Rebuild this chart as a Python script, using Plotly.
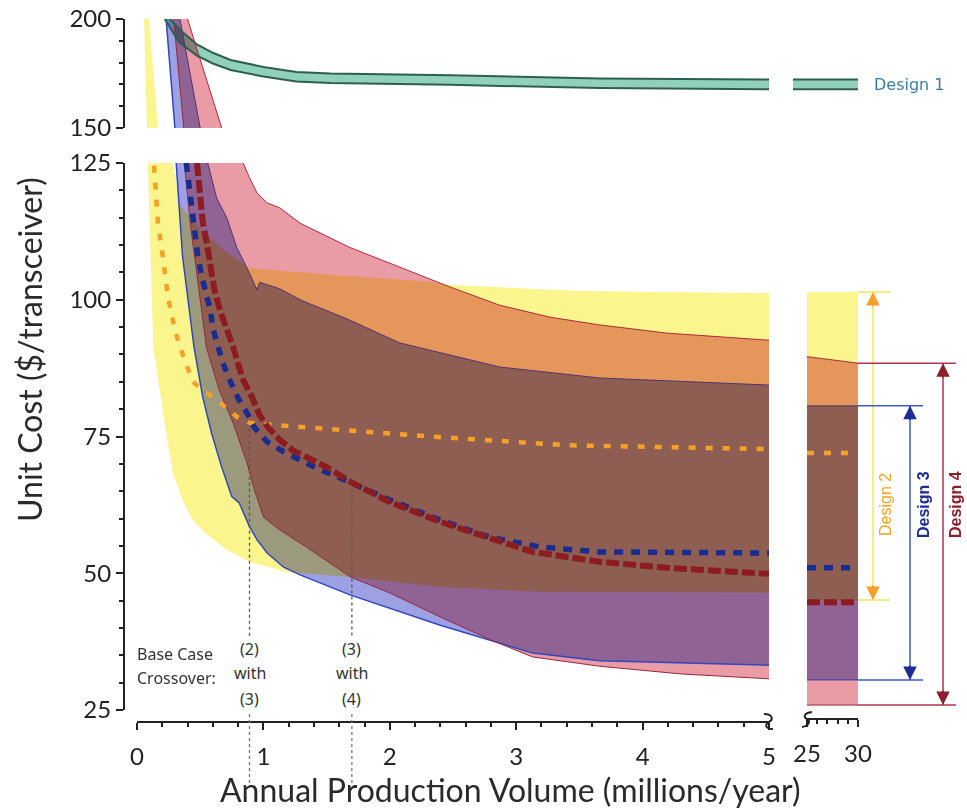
import plotly.graph_objects as go

W, H = 967, 809

# ---------------- data ----------------
# Design 1 (top panel band)
d1_upper_x = [0.26, 0.36, 0.47, 0.60, 0.74, 1.00, 1.26, 1.53, 2.48, 3.66, 5.00]
d1_upper_y = [200, 194.0, 188.5, 184.5, 181.2, 178.0, 175.7, 175.0, 174.2, 172.7, 172.2]
d1_lower_x = [0.22, 0.33, 0.47, 0.60, 0.74, 1.00, 1.26, 1.53, 2.48, 3.66, 5.00]
d1_lower_y = [200, 189.5, 183.3, 179.6, 176.6, 173.6, 171.3, 170.6, 169.8, 168.3, 167.8]

# Design 2 (yellow band + base case)
d2_upper_x = [0.095, 0.166, 0.285, 0.34, 0.52, 0.71, 0.89, 1.50, 2.32, 2.48, 3.50, 5.00]
d2_upper_y = [200, 150, 125, 117.3, 112.4, 108.7, 105.8, 104.6, 103.3, 102.7, 101.6, 101.2]
d2_lower_x = [0.056, 0.079, 0.085, 0.13, 0.18, 0.24, 0.285, 0.36, 0.44, 0.54, 0.71, 0.89,
              1.19, 1.69, 2.40, 3.19, 5.00]
d2_lower_y = [200, 150, 125, 91.0, 83.5, 74.4, 68.3, 63.4, 59.7, 57.4, 54.3, 52.1,
              50.2, 49.3, 47.5, 46.6, 46.5]
d2_base_x = [0.135, 0.166, 0.206, 0.245, 0.30, 0.34, 0.44, 0.56, 0.66, 0.79, 0.89, 1.08,
             1.50, 2.08, 2.32, 3.40, 5.00]
d2_base_y = [124.5, 114.0, 107.6, 100.5, 94.5, 91.4, 85.0, 83.0, 81.1, 78.6, 77.5, 77.1,
             76.4, 75.3, 75.0, 73.4, 72.7]

# Design 3 (blue band + base case)
d3_upper_x = [0.34, 0.50, 0.56, 0.63, 0.71, 0.79, 0.87, 0.95, 0.97, 1.13, 1.29, 1.68,
              2.08, 2.32, 2.87, 3.66, 5.00]
d3_upper_y = [200, 150, 125, 118.6, 115.0, 109.5, 105.8, 101.8, 103.2, 102.0, 100.0, 96.3,
              92.1, 90.8, 87.7, 85.7, 84.4]
d3_lower_x = [0.23, 0.30, 0.31, 0.36, 0.45, 0.52, 0.59, 0.67, 0.75, 0.81, 0.89, 0.95,
              1.03, 1.16, 1.29, 1.69, 2.40, 3.13, 3.66, 5.00]
d3_lower_y = [200, 150, 125, 108.0, 91.5, 82.2, 75.6, 69.4, 64.0, 62.8, 58.5, 56.1,
              53.7, 51.1, 49.7, 46.0, 40.5, 35.4, 34.0, 33.2]
d3_base_x = [0.39, 0.41, 0.435, 0.46, 0.48, 0.51, 0.54, 0.58, 0.60, 0.64, 0.68, 0.74,
             0.80, 0.87, 0.93, 1.03, 1.16, 1.29, 1.42, 1.55, 1.69, 2.00, 2.40, 2.79,
             3.19, 3.66, 5.00]
d3_base_y = [125.0, 121.0, 117.3, 111.3, 108.2, 104.5, 101.4, 98.1, 94.8, 91.4, 88.4, 85.0,
             82.0, 79.3, 76.6, 74.0, 72.2, 70.7, 69.2, 68.0, 66.5, 63.4, 59.7, 56.6,
             54.8, 53.9, 53.7]

# Design 4 (red band + base case)
d4_upper_x = [0.40, 0.67, 0.84, 0.89, 0.95, 1.03, 1.13, 1.29, 1.68, 2.08, 2.48, 2.87,
              3.27, 3.66, 4.19, 5.00]
d4_upper_y = [200, 150, 125, 122.3, 119.5, 117.7, 116.8, 114.0, 109.6, 106.0, 102.3, 99.0,
              96.8, 95.4, 93.9, 92.6]
d4_lower_x = [0.29, 0.37, 0.375, 0.42, 0.55, 0.65, 0.76, 0.87, 0.93, 1.00, 1.13, 1.34,
              1.69, 2.00, 2.40, 2.80, 3.13, 3.66, 4.30, 5.00]
d4_lower_y = [200, 150, 125, 114.2, 91.2, 83.5, 77.5, 70.2, 65.2, 60.3, 57.9, 54.8,
              49.3, 46.4, 42.0, 37.8, 34.7, 33.0, 31.6, 30.7]
d4_base_x = [0.475, 0.49, 0.52, 0.55, 0.58, 0.61, 0.66, 0.71, 0.76, 0.79, 0.84, 0.91,
             0.97, 1.04, 1.13, 1.23, 1.37, 1.50, 1.69, 2.00, 2.40, 2.79, 3.13, 3.66,
             4.19, 5.00]
d4_base_y = [125.0, 120.4, 114.2, 110.6, 106.4, 102.1, 97.8, 94.8, 91.4, 89.0, 85.3, 82.2,
             78.9, 76.6, 74.4, 72.5, 71.0, 69.4, 66.7, 63.0, 59.4, 56.4, 53.9, 52.1,
             51.0, 49.9]

# Right panel (25-30 million/year)
r_x = [25, 30]
d1_r_upper = [172.2, 172.2]
d1_r_lower = [167.8, 167.8]
d2_r_upper = [101.4, 101.4]
d2_r_lower = [45.1, 45.1]
d2_r_base = [72.0, 72.0]
d3_r_upper = [80.6, 80.6]
d3_r_lower = [30.5, 30.5]
d3_r_base = [51.0, 51.0]
d4_r_upper = [89.6, 88.4]
d4_r_lower = [25.9, 25.9]
d4_r_base = [44.7, 44.7]

# Crossovers
crossover_x = [0.89, 1.70]
crossover_y = [77.5, 66.6]
crossover_labels = [["(2)", "with", "(3)"], ["(3)", "with", "(4)"]]
crossover_line_end = 38

x_ticks_left = [0, 1, 2, 3, 4, 5]
x_ticks_right = [25, 30]
y_ticks_bottom = [25, 50, 75, 100, 125]
y_ticks_top = [150, 200]

# ---------------- styling ----------------
C_Y = "rgb(250,245,140)"
C_R = "rgb(234,156,166)"
C_B = "rgb(158,160,228)"
C_D1 = "rgb(145,208,186)"
C_D1_EDGE = "rgb(45,95,80)"
C_D2_LINE = "rgb(247,160,40)"
C_D3_LINE = "rgb(25,45,145)"
C_D4_LINE = "rgb(140,28,32)"
AX = "#222222"


def pxx(p):
    return p / W


def pxy(p):
    return 1 - p / H


BL = dict(xaxis="x", yaxis="y")
TL = dict(xaxis="x2", yaxis="y2")
BR = dict(xaxis="x3", yaxis="y3")
TR = dict(xaxis="x4", yaxis="y4")

fig = go.Figure()


def band(ux, uy, lx, ly, color, axes):
    fig.add_trace(go.Scatter(x=list(ux) + list(lx)[::-1], y=list(uy) + list(ly)[::-1],
                             mode="lines", fill="toself", fillcolor=color,
                             line=dict(width=0), hoverinfo="skip", **axes))


def line(x, y, color, width, axes, dash=None):
    fig.add_trace(go.Scatter(x=x, y=y, mode="lines",
                             line=dict(color=color, width=width, dash=dash),
                             hoverinfo="skip", **axes))


# bands in both left panels
for axes in (TL, BL):
    band(d2_upper_x, d2_upper_y, d2_lower_x, d2_lower_y, C_Y, axes)
    band(d3_upper_x, d3_upper_y, d3_lower_x, d3_lower_y, C_B, axes)
    band(d4_upper_x, d4_upper_y, d4_lower_x, d4_lower_y, C_R, axes)
band(d1_upper_x, d1_upper_y, d1_lower_x, d1_lower_y, C_D1, TL)

# right panel bands
band(r_x, d2_r_upper, r_x, d2_r_lower, C_Y, BR)
band(r_x, d3_r_upper, r_x, d3_r_lower, C_B, BR)
band(r_x, d4_r_upper, r_x, d4_r_lower, C_R, BR)
band(r_x, d1_r_upper, r_x, d1_r_lower, C_D1, TR)

# band edges
for axes in (TL, BL):
    line(d3_lower_x, d3_lower_y, "rgb(50,70,190)", 1.5, axes)
    line(d3_upper_x, d3_upper_y, "rgb(85,50,110)", 1, axes)
    line(d4_upper_x, d4_upper_y, "rgb(175,40,60)", 1, axes)
    line(d4_lower_x, d4_lower_y, "rgb(150,40,60)", 1, axes)
line(d1_upper_x, d1_upper_y, C_D1_EDGE, 2, TL)
line(d1_lower_x, d1_lower_y, C_D1_EDGE, 2, TL)
line(r_x, d1_r_upper, C_D1_EDGE, 2, TR)
line(r_x, d1_r_lower, C_D1_EDGE, 2, TR)
line(r_x, d3_r_upper, "rgb(85,50,110)", 1, BR)
line(r_x, d3_r_lower, "rgb(60,60,160)", 1, BR)
line(r_x, d4_r_upper, "rgb(175,40,60)", 1, BR)
line(r_x, d4_r_lower, "rgb(150,40,60)", 1, BR)

# crossover guide lines (inside plot)
for cx, cy in zip(crossover_x, crossover_y):
    line([cx, cx], [cy, crossover_line_end], "#555555", 1.3, BL, dash="dot")

# base case lines
line(d2_base_x, d2_base_y, C_D2_LINE, 4.5, BL, dash="7px,10px")
line(d3_base_x, d3_base_y, C_D3_LINE, 5.5, BL, dash="9px,8px")
line(d4_base_x, d4_base_y, C_D4_LINE, 6, BL, dash="13px,4px")
line(r_x, d2_r_base, C_D2_LINE, 4.5, BR, dash="7px,10px")
line(r_x, d3_r_base, C_D3_LINE, 5.5, BR, dash="9px,8px")
line(r_x, d4_r_base, C_D4_LINE, 6, BR, dash="13px,4px")

tickfont = dict(family="Lato", size=24, color=AX)
common_y = dict(showline=True, linecolor=AX, linewidth=2, ticks="outside", ticklen=7,
                tickwidth=1.5, tickcolor=AX, tickfont=tickfont, showgrid=False,
                zeroline=False, anchor="free", position=pxx(124), automargin=False)
common_x = dict(showline=True, linecolor=AX, linewidth=2, ticks="outside", ticklen=7,
                tickwidth=1.5, tickcolor=AX, tickfont=tickfont, showgrid=False,
                zeroline=False, ticklabelstandoff=6, automargin=False)
hidden = dict(visible=False, automargin=False)

fig.update_layout(
    width=W, height=H, margin=dict(l=0, r=0, t=0, b=0, autoexpand=False),
    paper_bgcolor="white", plot_bgcolor="rgba(0,0,0,0)", showlegend=False,
    xaxis=dict(domain=[pxx(137), pxx(769)], range=[0, 5], tickvals=x_ticks_left,
               minor=dict(dtick=0.2, ticklen=4, ticks="outside", tickcolor=AX),
               anchor="free", position=pxy(722), **common_x),
    yaxis=dict(domain=[pxy(710), pxy(163)], range=[25, 125], tickvals=y_ticks_bottom,
               minor=dict(dtick=5, ticklen=4, ticks="outside", tickcolor=AX), **common_y),
    xaxis2=dict(domain=[pxx(137), pxx(769)], range=[0, 5], anchor="y2", **hidden),
    yaxis2=dict(domain=[pxy(128), pxy(19)], range=[150, 200], tickvals=y_ticks_top,
                minor=dict(dtick=10, ticklen=4, ticks="outside", tickcolor=AX), **common_y),
    xaxis3=dict(domain=[pxx(807), pxx(858)], range=[25, 30], tickvals=x_ticks_right,
                minor=dict(dtick=1, ticklen=4, ticks="outside", tickcolor=AX),
                anchor="free", position=pxy(719), **common_x),
    yaxis3=dict(domain=[pxy(710), pxy(163)], range=[25, 125], anchor="x3", **hidden),
    xaxis4=dict(domain=[pxx(793), pxx(858)], range=[25, 30], anchor="y4", **hidden),
    yaxis4=dict(domain=[pxy(128), pxy(19)], range=[150, 200], anchor="x4", **hidden),
)

shapes = []
# crossover guide lines below the axis
for cx in crossover_x:
    shapes.append(dict(type="line", xref="x", yref="paper", x0=cx, x1=cx,
                       y0=pxy(714), y1=pxy(786),
                       line=dict(color="#777777", width=1.3, dash="dot")))


def ppath(pts):
    (x0, y0) = pts[0]
    s = "M%.5f,%.5f" % (pxx(x0), pxy(y0))
    for i in range(1, len(pts), 3):
        s += " C" + " ".join("%.5f,%.5f" % (pxx(a), pxy(b)) for a, b in pts[i:i + 3])
    return s


shapes.append(dict(type="path", xref="paper", yref="paper",
                   path=ppath([(764, 714), (772, 714), (774, 719), (769, 722),
                               (764, 725), (766, 729), (773, 729)]),
                   line=dict(color=AX, width=2)))
shapes.append(dict(type="path", xref="paper", yref="paper",
                   path=ppath([(812, 712), (804, 713), (803, 717), (807, 719),
                               (811, 721), (809, 726), (802, 727)]),
                   line=dict(color=AX, width=2)))

# right-side range indicators
indicators = [
    (d2_r_upper[1], d2_r_lower[1], 873, 890, "rgb(245,230,80)", "rgb(247,160,40)"),
    (d3_r_upper[1], d3_r_lower[1], 910, 923, "rgb(60,90,200)", "rgb(30,45,150)"),
    (d4_r_upper[1], d4_r_lower[1], 943, 956, "rgb(180,50,80)", "rgb(140,30,45)"),
]
annotations = []
for top, bot, xpos, xend, lc, hc in indicators:
    for v in (top, bot):
        shapes.append(dict(type="line", xref="paper", yref="y3", x0=pxx(858), x1=pxx(xend),
                           y0=v, y1=v, line=dict(color=lc, width=1.5)))
    shapes.append(dict(type="line", xref="paper", yref="y3", x0=pxx(xpos), x1=pxx(xpos),
                       y0=bot, y1=top, line=dict(color=lc, width=1.5)))
    for v, off in ((top, 16), (bot, -16)):
        annotations.append(dict(x=pxx(xpos), xref="paper", y=v, yref="y3", ax=0, ay=off,
                                axref="pixel", ayref="pixel", showarrow=True, arrowhead=2,
                                arrowsize=1.8, arrowwidth=1.5, arrowcolor=hc, text=""))

fig.update_layout(shapes=shapes)


def label(text, xpx, ypx, size, color, family, angle=0, xanchor="center"):
    return dict(text=text, x=pxx(xpx), y=pxy(ypx), xref="paper", yref="paper",
                xanchor=xanchor, yanchor="middle", textangle=angle, showarrow=False,
                font=dict(family=family, size=size, color=color))


annotations += [
    label("Unit Cost ($/transceiver)", 30, 350, 32, "#2a2a2a", "Lato", angle=-90),
    label("Annual Production Volume (millions/year)", 510, 789, 32, "#2a2a2a", "Lato"),
    label("Base Case", 135, 654, 16, "#333", "Noto Sans", xanchor="left"),
    label("Crossover:", 135, 678, 16, "#333", "Noto Sans", xanchor="left"),
    label("Design 1", 909, 85, 16, "rgb(60,125,165)", "DejaVu Sans"),
    label("Design 2", 885, 505, 16, "rgb(247,160,30)", "Liberation Sans", angle=-90),
    label("<b>Design 3</b>", 923, 505, 16, "rgb(30,45,150)", "Liberation Sans", angle=-90),
    label("<b>Design 4</b>", 955, 505, 16, "rgb(140,30,45)", "Liberation Sans", angle=-90),
]
for cx, lines in zip(crossover_x, crossover_labels):
    for txt, ypx in zip(lines, (649, 673, 699)):
        annotations.append(dict(text=txt, x=cx, xref="x", y=pxy(ypx), yref="paper",
                                xanchor="center", yanchor="middle",
                                showarrow=False, bgcolor="white", borderpad=1,
                                font=dict(family="Noto Sans", size=16, color="#333")))

fig.update_layout(annotations=annotations)

POST = ("document.body.style.margin='0';"
        "document.querySelectorAll('path.js-fill').forEach(function(p){"
        "p.style.mixBlendMode='multiply';});")

fig.write_html("out.html", config={"displayModeBar": False}, post_script=POST)
